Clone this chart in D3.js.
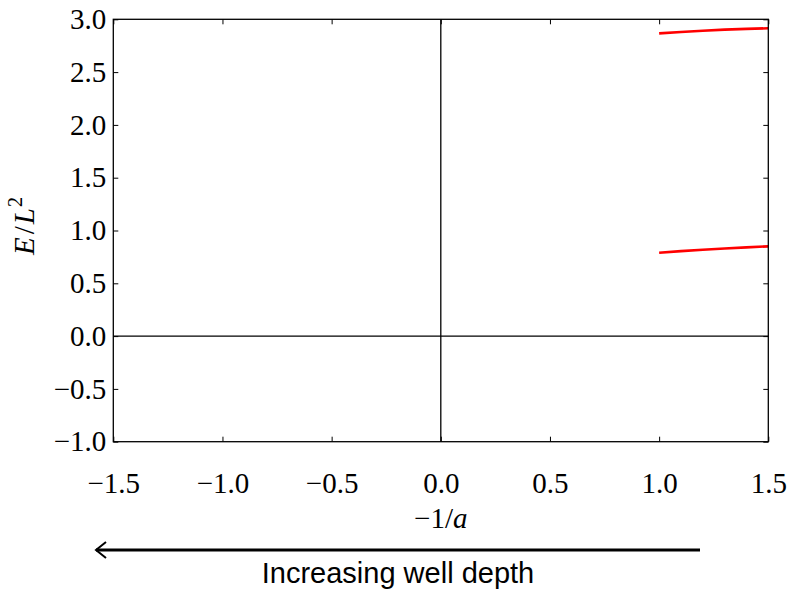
<!DOCTYPE html>
<html><head><meta charset="utf-8">
<script src="https://cdn.jsdelivr.net/npm/d3@7/dist/d3.min.js"></script>
<style>body{margin:0;background:#fff}</style>
</head><body>
<svg id="c" width="788" height="590"></svg>
<script>
const xTicks = [-1.5,-1.0,-0.5,0.0,0.5,1.0,1.5];
const yTicks = [-1.0,-0.5,0.0,0.5,1.0,1.5,2.0,2.5,3.0];
const invA = [1.0,1.1,1.2,1.3,1.4,1.5];
const level1 = [0.790,0.805,0.818,0.830,0.840,0.850];
const level2 = [2.867,2.880,2.892,2.902,2.909,2.915];

(function(){
const svg = d3.select("#c");
const L=113.3, R=768.3, T=19.3, B=441.7;
const x = d3.scaleLinear().domain([-1.5,1.5]).range([L,R]);
const y = d3.scaleLinear().domain([-1,3]).range([B,T]);
const serif = "'Liberation Serif', 'DejaVu Serif', serif";
const fs = 29;
const fmt = d => (d<0?"\u2212":"") + Math.abs(d).toFixed(1);

svg.append("line").attr("x1",x(0)).attr("x2",x(0)).attr("y1",T).attr("y2",B).attr("stroke","#000").attr("stroke-width",1.3);
svg.append("line").attr("x1",L).attr("x2",R).attr("y1",y(0)).attr("y2",y(0)).attr("stroke","#000").attr("stroke-width",1.3);

const line = d3.line().x(d=>x(d[0])).y(d=>y(d[1]));
[level1, level2].forEach(lv=>{
  svg.append("path").datum(invA.map((v,i)=>[v,lv[i]])).attr("d",line)
    .attr("fill","none").attr("stroke","#ff0000").attr("stroke-width",2.6);
});

const tl = 5;
const axB = d3.axisBottom(x).tickValues(xTicks).tickSizeInner(-tl).tickSizeOuter(0).tickPadding(31).tickFormat(fmt);
const axT = d3.axisTop(x).tickValues(xTicks).tickSizeInner(-tl).tickSizeOuter(0).tickFormat("");
const axL = d3.axisLeft(y).tickValues(yTicks).tickSizeInner(-tl).tickSizeOuter(0).tickPadding(7).tickFormat(fmt);
const axR = d3.axisRight(y).tickValues(yTicks).tickSizeInner(-tl).tickSizeOuter(0).tickFormat("");
function style(g){
  g.select(".domain").remove();
  g.selectAll(".tick line").attr("stroke","#000").attr("stroke-width",1);
  g.selectAll("text").attr("font-family",serif).attr("font-size",fs).attr("fill","#000");
}
svg.append("g").attr("transform",`translate(0,${B})`).call(axB).call(style);
svg.append("g").attr("transform",`translate(0,${T})`).call(axT).call(style);
svg.append("g").attr("transform",`translate(${L},0)`).call(axL).call(style);
svg.append("g").attr("transform",`translate(${R},0)`).call(axR).call(style);

svg.append("rect").attr("x",L).attr("y",T).attr("width",R-L).attr("height",B-T)
  .attr("fill","none").attr("stroke","#000").attr("stroke-width",1.3);

const xl = svg.append("text").attr("x",x(0)).attr("y",528).attr("text-anchor","middle")
  .attr("font-family",serif).attr("font-size",fs);
xl.append("tspan").text("\u22121/");
xl.append("tspan").attr("font-style","italic").text("a");

const yl = svg.append("text").attr("transform",`translate(34,226) rotate(-90)`).attr("text-anchor","middle")
  .attr("font-family",serif).attr("font-size",fs);
yl.append("tspan").attr("font-style","italic").text("E");
yl.append("tspan").attr("dx",3).text("/");
yl.append("tspan").attr("dx",2).attr("font-style","italic").text("L");
yl.append("tspan").attr("font-size",20).attr("dx",1).attr("dy",-12).text("2");

const ay = 550;
svg.append("line").attr("x1",700).attr("x2",96).attr("y1",ay).attr("y2",ay).attr("stroke","#000").attr("stroke-width",2.8);
svg.append("path").attr("d",`M106,${ay-8} L96,${ay} L106,${ay+8}`).attr("fill","none").attr("stroke","#000").attr("stroke-width",2);
svg.append("text").attr("x",398).attr("y",583).attr("text-anchor","middle")
  .attr("font-family","'Liberation Sans', 'DejaVu Sans', sans-serif").attr("font-size",29).text("Increasing well depth");
})();
</script>
</body></html>
